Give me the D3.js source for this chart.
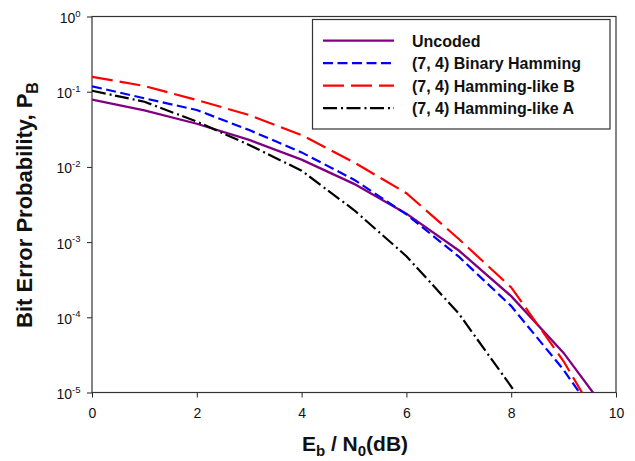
<!DOCTYPE html>
<html>
<head>
<meta charset="utf-8">
<script src="https://cdn.jsdelivr.net/npm/d3@7"></script>
<style>
  html, body { margin: 0; padding: 0; background: #fff; }
  svg { display: block; }
  text { font-family: "Liberation Sans", Arial, sans-serif; }
</style>
</head>
<body>
<svg id="chart" width="635" height="461"></svg>
<script>
// ---- data ----
const ebn0 = [0, 1, 2, 3, 4, 5, 6, 7, 8, 9, 10];
const uncoded       = [0.0786, 0.0563, 0.0375, 0.0229, 0.0125, 0.00595, 0.00239, 7.73e-4, 1.91e-4, 3.36e-5, 3.87e-6];
const binaryHamming = [0.118, 0.0817, 0.0571, 0.0309, 0.0156, 0.00676, 0.00234, 6.4e-4, 1.41e-4, 2.0e-5, 2.0e-6];
const hammingLikeB  = [0.158, 0.119, 0.0776, 0.049, 0.0265, 0.0115, 0.00447, 1.1e-3, 2.5e-4, 2.6e-5, 1.7e-6];
const hammingLikeA  = [0.103, 0.0736, 0.040, 0.0196, 0.0089, 0.00267, 6.5e-4, 1.12e-4, 1.2e-5, 1.0e-6, null];

const seriesNames = ["Uncoded", "(7, 4) Binary Hamming", "(7, 4) Hamming-like B", "(7, 4) Hamming-like A"];
const xTicks = [0, 2, 4, 6, 8, 10];
const yTickExponents = [0, -1, -2, -3, -4, -5];

// ---- styles ----
const styles = [
  { color: "#800080", dash: null, width: 2.3 },
  { color: "#0000ff", dash: "10,4.5", width: 2.2 },
  { color: "#ff0000", dash: "21,7", width: 2.2 },
  { color: "#000000", dash: "14,4,2,3.5", width: 2.2 }
];
const seriesValues = [uncoded, binaryHamming, hammingLikeB, hammingLikeA];

// ---- layout ----
const L = 92, R = 616, T = 16.5, B = 392.5;
const svg = d3.select("#chart");

const x = d3.scaleLinear().domain([0, 10]).range([L, R]);
const y = d3.scaleLog().domain([1e-5, 1]).range([B, T]);

// clip
svg.append("defs").append("clipPath").attr("id", "plotclip")
  .append("rect").attr("x", L).attr("y", T).attr("width", R - L).attr("height", B - T);

// axes
const xAxis = d3.axisBottom(x).tickValues(xTicks).tickSize(5).tickSizeOuter(0).tickPadding(6);
const gx = svg.append("g").attr("transform", `translate(0,${B})`).call(xAxis);
gx.select(".domain").remove();
gx.selectAll("line").attr("stroke", "#222");
gx.selectAll("text").attr("font-size", 14).attr("fill", "#111")
  .attr("dy", null).attr("y", 25.5);

const yAxis = d3.axisLeft(y).tickValues(yTickExponents.map(e => Math.pow(10, e)))
  .tickSize(5).tickSizeOuter(0).tickFormat("");
const gy = svg.append("g").attr("transform", `translate(${L},0)`).call(yAxis);
gy.select(".domain").remove();
gy.selectAll("line").attr("stroke", "#222");

// y tick labels with superscript
const ylab = svg.append("g");
yTickExponents.forEach(e => {
  const t = ylab.append("text")
    .attr("x", 80.5).attr("y", y(Math.pow(10, e)) + 6.5)
    .attr("text-anchor", "end").attr("font-size", 14).attr("fill", "#111");
  t.append("tspan").text("10");
  t.append("tspan").attr("font-size", 9.5).attr("dy", -6.5).text(String(e));
});

// frame
svg.append("rect").attr("x", L).attr("y", T).attr("width", R - L).attr("height", B - T)
  .attr("fill", "none").attr("stroke", "#333").attr("stroke-width", 1.2);

// lines
const line = d3.line()
  .defined(d => d[1] != null)
  .x(d => x(d[0])).y(d => y(d[1]));
const gl = svg.append("g").attr("clip-path", "url(#plotclip)");
seriesValues.forEach((vals, i) => {
  const pts = ebn0.map((e, k) => [e, vals[k]]);
  gl.append("path").datum(pts)
    .attr("d", line)
    .attr("fill", "none")
    .attr("stroke", styles[i].color)
    .attr("stroke-width", styles[i].width)
    .attr("stroke-dasharray", styles[i].dash);
});

// legend
const lg = svg.append("g");
lg.append("rect").attr("x", 312.5).attr("y", 19.5).attr("width", 297.5).attr("height", 109.5)
  .attr("fill", "#fff").attr("stroke", "#333").attr("stroke-width", 1.2);
seriesNames.forEach((name, i) => {
  const cy = 40.7 + i * 22.5;
  lg.append("line").attr("x1", 323).attr("x2", 394).attr("y1", cy).attr("y2", cy)
    .attr("stroke", styles[i].color).attr("stroke-width", styles[i].width)
    .attr("stroke-dasharray", styles[i].dash);
  lg.append("text").attr("x", 412).attr("y", cy + 5.8)
    .attr("font-size", 16).attr("font-weight", "bold").attr("fill", "#111")
    .text(name);
});

// axis titles
const xt = svg.append("text").attr("x", 355).attr("y", 451)
  .attr("text-anchor", "middle").attr("font-size", 21).attr("font-weight", "bold").attr("fill", "#111");
xt.append("tspan").text("E");
xt.append("tspan").attr("font-size", 15).attr("dy", 4.5).text("b");
xt.append("tspan").attr("dy", -4.5).text(" / N");
xt.append("tspan").attr("font-size", 15).attr("dy", 4.5).text("0");
xt.append("tspan").attr("dy", -4.5).text("(dB)");

const yt = svg.append("text")
  .attr("transform", `translate(31.5,205) rotate(-90)`)
  .attr("text-anchor", "middle").attr("font-size", 22).attr("font-weight", "bold").attr("fill", "#111");
yt.append("tspan").text("Bit Error Probability, P");
yt.append("tspan").attr("font-size", 16).attr("dy", 6).text("B");
</script>
</body>
</html>
